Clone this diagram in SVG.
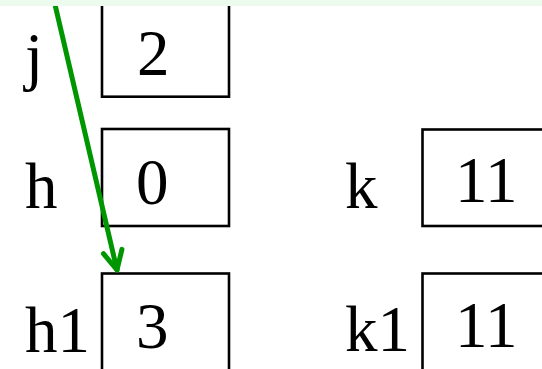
<svg xmlns="http://www.w3.org/2000/svg" width="542" height="369" viewBox="0 0 542 369">
  <style>
    .box { fill: #ffffff; stroke: #000000; stroke-width: 2.6; }
    .lbl { font-family: "Liberation Serif", "Times New Roman", serif; font-size: 65px; fill: #000000; }
    .conn { fill: none; stroke: #009600; stroke-width: 5; stroke-linecap: round; }
  </style>
  <defs>
    <marker id="chev" markerUnits="userSpaceOnUse" orient="auto" refX="0" refY="0" markerWidth="40" markerHeight="40" overflow="visible">
      <path d="M -19 -9.5 L 0 0 L -19 9.5" fill="none" stroke="#009600" stroke-width="5" stroke-linecap="round" stroke-linejoin="round"/>
    </marker>
  </defs>
  <rect x="0" y="0" width="542" height="369" fill="#ffffff"/>

  <g id="node-j">
    <rect class="box" x="102" y="-5" width="127" height="101.7"/>
    <text class="lbl" x="25" y="78">j</text>
    <text class="lbl" x="137" y="75">2</text>
  </g>
  <g id="node-h">
    <rect class="box" x="102" y="129" width="127" height="97"/>
    <text class="lbl" x="25" y="208">h</text>
    <text class="lbl" x="136" y="204">0</text>
  </g>
  <g id="node-k">
    <rect class="box" x="422.5" y="129.5" width="127" height="96.5"/>
    <text class="lbl" x="345" y="208">k</text>
    <text class="lbl" x="455" y="202">11</text>
  </g>
  <g id="node-h1">
    <rect class="box" x="102" y="273.5" width="127" height="110"/>
    <text class="lbl" x="25" y="352">h1</text>
    <text class="lbl" x="136" y="348">3</text>
  </g>
  <g id="node-k1">
    <rect class="box" x="422.5" y="273.5" width="127" height="110"/>
    <text class="lbl" x="345" y="351">k1</text>
    <text class="lbl" x="455" y="347">11</text>
  </g>

  <g id="connectors">
    <path class="conn" d="M 53 -4 L 117 270" marker-end="url(#chev)"/>
  </g>

  <rect x="0" y="0" width="542" height="6" fill="#edfaee"/>
</svg>
